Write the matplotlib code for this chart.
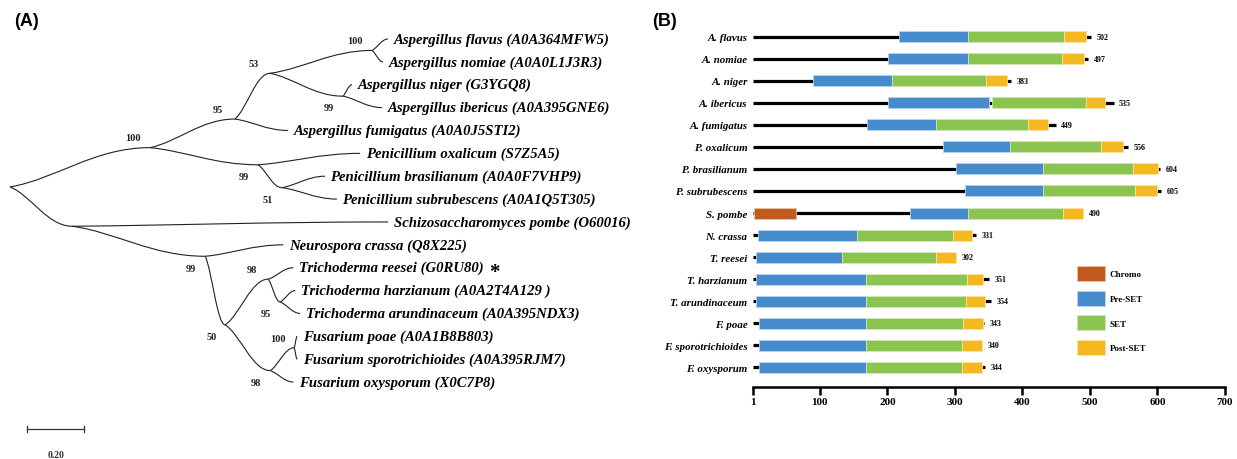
import numpy as np
import matplotlib.pyplot as plt
from matplotlib.path import Path
from matplotlib.patches import PathPatch, Patch

plt.rcParams['font.family'] = ['Liberation Serif', 'DejaVu Serif']

# ---------------- panel A: tree data ----------------
leaf_labels = [
    'Aspergillus flavus (A0A364MFW5)',
    'Aspergillus nomiae (A0A0L1J3R3)',
    'Aspergillus niger (G3YGQ8)',
    'Aspergillus ibericus (A0A395GNE6)',
    'Aspergillus fumigatus (A0A0J5STI2)',
    'Penicillium oxalicum (S7Z5A5)',
    'Penicillium brasilianum (A0A0F7VHP9)',
    'Penicillium subrubescens (A0A1Q5T305)',
    'Schizosaccharomyces pombe (O60016)',
    'Neurospora crassa (Q8X225)',
    'Trichoderma reesei (G0RU80)',
    'Trichoderma harzianum (A0A2T4A129 )',
    'Trichoderma arundinaceum (A0A395NDX3)',
    'Fusarium poae (A0A1B8B803)',
    'Fusarium sporotrichioides (A0A395RJM7)',
    'Fusarium oxysporum (X0C7P8)',
]
marked_leaf = 10  # T. reesei gets the star

# leaf = (leaf index, branch length); clade = (children, branch length, bootstrap)
tree = ([
    ([
        ([
            ([
                ([(0, 0.056), (1, 0.039)], 0.358, 100),
                ([(2, 0.032), (3, 0.137)], 0.256, 99),
            ], 0.123, 53),
            (4, 0.186),
        ], 0.298, 95),
        ([
            (5, 0.358),
            ([(6, 0.151), (7, 0.193)], 0.084, 51),
        ], 0.379, 99),
    ], 0.491, 100),
    ([
        (8, 1.109),
        ([
            (9, 0.274),
            ([
                ([
                    (10, 0.088),
                    ([(11, 0.053), (12, 0.070)], 0.042, 95),
                ], 0.151, 98),
                ([
                    ([(13, 0.011), (14, 0.011)], 0.084, 100),
                    (15, 0.081),
                ], 0.158, 98),
            ], 0.070, 50),
        ], 0.467, 99),
    ], 0.218, None),
], 0.0, None)
scale_len = 0.20

# ---------------- panel B: domain data ----------------
species = ['A. flavus', 'A. nomiae', 'A. niger', 'A. ibericus', 'A. fumigatus',
           'P. oxalicum', 'P. brasilianum', 'P. subrubescens', 'S. pombe',
           'N. crassa', 'T. reesei', 'T. harzianum', 'T. arundinaceum',
           'F. poae', 'F. sporotrichioides', 'F. oxysporum']
prot_len = [502, 497, 383, 535, 449, 556, 604, 605, 490, 331, 302, 351, 354, 343, 340, 344]
chromo = [None] * 8 + [(2, 65)] + [None] * 7
pre_set = [(217, 320), (201, 320), (90, 207), (201, 351), (170, 272), (283, 382),
           (302, 431), (315, 430), (234, 320), (8, 155), (6, 133), (6, 168),
           (6, 168), (10, 168), (10, 168), (10, 168)]
set_dom = [(320, 462), (320, 459), (207, 346), (355, 494), (272, 408), (382, 516),
           (431, 564), (430, 567), (320, 460), (155, 297), (133, 272), (168, 318),
           (168, 317), (168, 312), (168, 310), (168, 310)]
post_set = [(462, 494), (459, 491), (346, 377), (494, 522), (408, 438), (516, 549),
            (564, 601), (567, 600), (460, 490), (297, 325), (272, 302), (318, 342),
            (317, 345), (312, 342), (310, 340), (310, 340)]
domain_names = ['Chromo', 'Pre-SET', 'SET', 'Post-SET']
domain_colors = ['#C05A20', '#468BCB', '#8CC450', '#F4B921']
domain_edges = ['#F0C0A0', '#B8D4EE', '#D0E8B8', '#FBE3A0']

fig = plt.figure(figsize=(12.37, 4.6), dpi=100)

# ================= panel A =================
axa = fig.add_axes([0, 0, 640 / 1237, 1])
axa.set_xlim(-10 / 285, 630 / 285)
axa.set_ylim((460 - 40) / 22.87, -40 / 22.87)
axa.axis('off')

line_col = '#222222'


def branch(xp, yp, xc, yc):
    dx = xc - xp
    verts = [(xp, yp), (xp + 0.33 * dx, yp + 0.2 * (yc - yp)), (xp + 0.6 * dx, yc), (xc, yc)]
    codes = [Path.MOVETO, Path.CURVE4, Path.CURVE4, Path.CURVE4]
    axa.add_patch(PathPatch(Path(verts, codes), fill=False, lw=0.8, ec=line_col))


def draw(node, x0, first):
    # returns (x, y, number of leaves)
    if isinstance(node[0], int):
        idx, bl = node
        x = x0 + bl
        t = axa.annotate(leaf_labels[idx], xy=(x, idx), xytext=(4, 0),
                         textcoords='offset points', ha='left', va='center',
                         fontsize=10.6, style='italic', weight='bold')
        if idx == marked_leaf:
            axa.annotate('*', xy=(1, 0.5), xycoords=t, xytext=(4, -3),
                         textcoords='offset points', ha='left', va='center',
                         fontsize=15, weight='bold')
        return x, float(idx), 1
    children, bl, boot = node
    x = x0 + bl
    pts = [draw(c, x, i == 0) for i, c in enumerate(children)]
    # small clades pull the node toward them (curvogram look)
    w = np.array([1.0 / p[2] for p in pts])
    y = float(np.sum(w * np.array([p[1] for p in pts])) / w.sum())
    for cx, cy, _ in pts:
        branch(x, y, cx, cy)
    if boot is not None:
        off = (-12, 7) if first else (-10, -8.5)
        axa.annotate(str(boot), xy=(x, y), xytext=off, textcoords='offset points',
                     ha='center', va='center', fontsize=7.5, weight='bold', color='#222222')
    return x, y, sum(p[2] for p in pts)


draw(tree, 0.0, True)

# scale bar
sb_x0, sb_y = 0.06, 17.07
axa.plot([sb_x0, sb_x0 + scale_len], [sb_y, sb_y], color='#333333', lw=0.9)
axa.plot([sb_x0, sb_x0], [sb_y - 0.13, sb_y + 0.13], color='#333333', lw=0.9)
axa.plot([sb_x0 + scale_len] * 2, [sb_y - 0.13, sb_y + 0.13], color='#333333', lw=0.9)
axa.text(sb_x0 + scale_len / 2, sb_y + 1.1, f'{scale_len:.2f}', ha='center', va='center',
         fontsize=7, weight='bold', color='#333333')

# ================= panel B =================
axb = fig.add_axes([753 / 1237, 72 / 460, 472 / 1237, 370 / 460])
axb.set_xlim(1, 700)
axb.set_ylim(15.9, -0.9)
rows = np.arange(len(species))

axb.hlines(rows, 1, prot_len, color='black', lw=2.3, zorder=1)
bar_h = 0.5
for doms, col, ec in zip([chromo, pre_set, set_dom, post_set], domain_colors, domain_edges):
    for r, d in zip(rows, doms):
        if d is None:
            continue
        axb.barh(r, d[1] - d[0], left=d[0], height=bar_h, color=col,
                 edgecolor=ec, linewidth=0.6, zorder=2)

for r, n in zip(rows, prot_len):
    axb.annotate(str(n), xy=(n, r), xytext=(4, 0), textcoords='offset points',
                 ha='left', va='center', fontsize=5.8, weight='bold')

axb.set_yticks(rows, species)
axb.tick_params(axis='y', length=0, pad=4, labelsize=7.8)
for lab in axb.get_yticklabels():
    lab.set_style('italic')
    lab.set_weight('bold')

axb.set_xticks([1, 100, 200, 300, 400, 500, 600, 700])
axb.tick_params(axis='x', direction='out', length=6, width=1.8, pad=1.5, labelsize=8)
for lab in axb.get_xticklabels():
    lab.set_weight('bold')
for s in ['top', 'right', 'left']:
    axb.spines[s].set_visible(False)
axb.spines['bottom'].set_linewidth(1.8)

handles = [Patch(facecolor=c, edgecolor=e, linewidth=0.6) for c, e in zip(domain_colors, domain_edges)]
leg = axb.legend(handles, domain_names, loc='upper left',
                 bbox_to_anchor=(1077 / 1237, (460 - 267) / 460), bbox_transform=fig.transFigure,
                 frameon=False, fontsize=6.5, handlelength=3.1, handleheight=2.2,
                 labelspacing=1.05, handletextpad=0.55, borderpad=0, borderaxespad=0)
for t in leg.get_texts():
    t.set_weight('bold')

# panel letters
fig.text(14 / 1237, 1 - 22 / 460, '(A)', fontsize=13, weight='bold',
         family='Liberation Sans', ha='left', va='center')
fig.text(652 / 1237, 1 - 21 / 460, '(B)', fontsize=13, weight='bold',
         family='Liberation Sans', ha='left', va='center')

fig.savefig('out.png', dpi=100)
